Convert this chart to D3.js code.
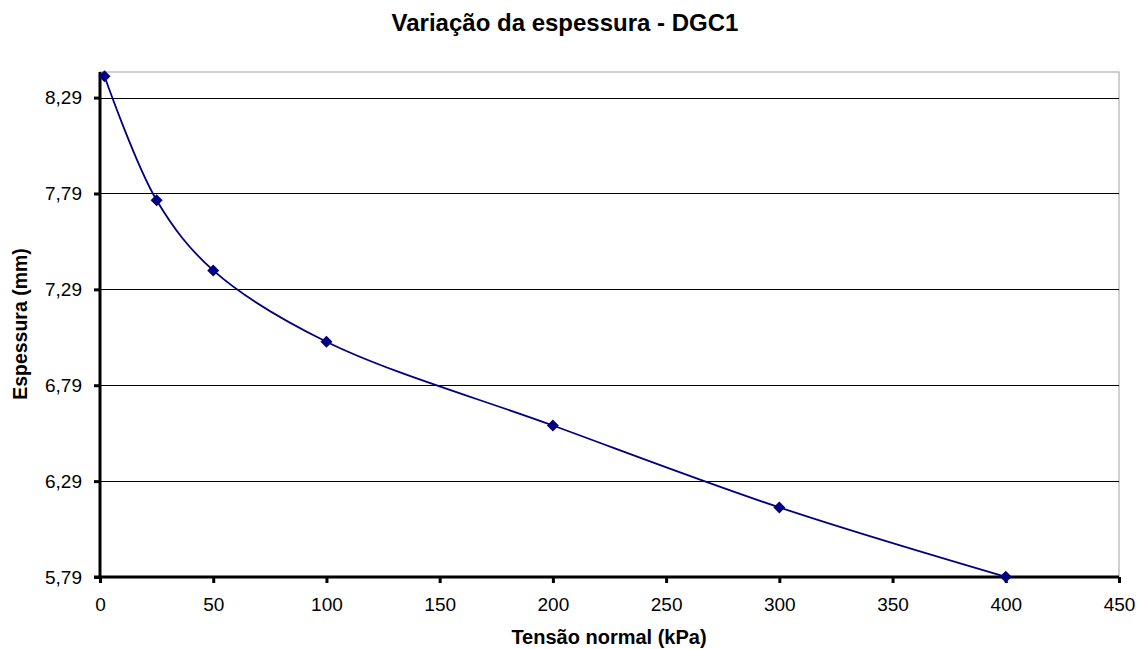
<!DOCTYPE html>
<html>
<head>
<meta charset="utf-8">
<script src="https://cdn.jsdelivr.net/npm/d3@7"></script>
<style>
  body { margin: 0; background: #fff; }
  text { font-family: "Liberation Sans", Arial, sans-serif; }
</style>
</head>
<body>
<svg width="1145" height="649"></svg>
<script>
// chart data
var tensao = [2, 25, 50, 100, 200, 300, 400]
var espessura = [8.401, 7.755, 7.389, 7.017, 6.580, 6.153, 5.791]
var yTicks = [5.79, 6.29, 6.79, 7.29, 7.79, 8.29]
var xTicks = [0, 50, 100, 150, 200, 250, 300, 350, 400, 450]

var svg = d3.select("svg")
// plot box (note: "top" is reserved on window, so use px names)
var pxLeft = 100, pxRight = 1119, pxTop = 72, pxBottom = 577

var x = d3.scaleLinear().domain([0, 450]).range([pxLeft, pxRight])
var y = d3.scaleLinear().domain([5.79, 8.4235]).range([pxBottom, pxTop])

// plot border (top/right grey)
svg.append("rect")
	.attr("x", pxLeft).attr("y", pxTop)
	.attr("width", pxRight - pxLeft).attr("height", pxBottom - pxTop)
	.style("fill", "none")
	.style("stroke", "#a0a0a0")
	.style("stroke-width", "1px")

// gridlines
svg.append("g")
	.selectAll("line")
	.data(yTicks.slice(1))
	.enter()
	.append("line")
	.attr("x1", pxLeft).attr("x2", pxRight)
	.attr("y1", d => Math.round(y(d)) + 0.5)
	.attr("y2", d => Math.round(y(d)) + 0.5)
	.style("stroke", "#000")
	.style("stroke-width", "1px")

// axes
var fmt = d => d.toFixed(2).replace(".", ",")
var yAxis = svg.append("g")
	.attr("transform", "translate(" + pxLeft + ",0)")
	.call(d3.axisLeft(y).tickValues(yTicks).tickFormat(fmt).tickSize(6).tickPadding(12))
var xAxis = svg.append("g")
	.attr("transform", "translate(0," + pxBottom + ")")
	.call(d3.axisBottom(x).tickValues(xTicks).tickSize(6).tickPadding(15))

;[yAxis, xAxis].forEach(g => {
	g.select(".domain").style("stroke", "#000").style("stroke-width", "3px")
	g.selectAll(".tick line").style("stroke", "#000").style("stroke-width", "3px")
	g.selectAll(".tick text")
		.style("font-size", "19px")
		.style("fill", "#000")
		.style("font-family", "Liberation Sans, Arial, sans-serif")
})
yAxis.select(".domain").attr("d", "M0," + pxTop + "V" + (pxBottom + 2))
xAxis.select(".domain").attr("d", "M" + (pxLeft - 6) + ",0H" + pxRight)

// smoothed line
var pts = tensao.map((t, i) => [t, espessura[i]])
var line = d3.line()
	.x(d => x(d[0]))
	.y(d => y(d[1]))
	.curve(d3.curveCatmullRom.alpha(0.5))

svg.append("path")
	.datum(pts)
	.attr("d", line)
	.style("fill", "none")
	.style("stroke", "#000080")
	.style("stroke-width", "1.8px")

// diamond markers
svg.append("g")
	.selectAll("path")
	.data(pts)
	.enter()
	.append("path")
	.attr("transform", d => "translate(" + x(d[0]) + "," + y(d[1]) + ")")
	.attr("d", "M0,-6L6,0L0,6L-6,0Z")
	.style("fill", "#000080")

// titles
svg.append("text")
	.attr("x", 565).attr("y", 31)
	.style("text-anchor", "middle")
	.style("font-size", "24px")
	.style("font-weight", "bold")
	.text("Variação da espessura - DGC1")

svg.append("text")
	.attr("x", 609).attr("y", 644)
	.style("text-anchor", "middle")
	.style("font-size", "20px")
	.style("font-weight", "bold")
	.text("Tensão normal (kPa)")

svg.append("text")
	.attr("transform", "translate(27,324) rotate(-90)")
	.style("text-anchor", "middle")
	.style("font-size", "19.5px")
	.style("font-weight", "bold")
	.text("Espessura (mm)")
</script>
</body>
</html>
